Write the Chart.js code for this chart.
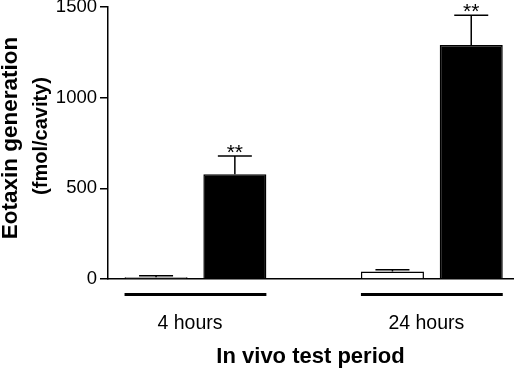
<!DOCTYPE html>
<html>
<head>
<meta charset="utf-8">
<script src="https://cdn.jsdelivr.net/npm/chart.js@4/dist/chart.umd.min.js"></script>
<style>
  body { margin: 0; background: #fff; }
</style>
</head>
<body>
<canvas id="myChart" width="520" height="371"></canvas>
<script>
// values
const periods = ['4 hours', '24 hours'];
const openMean = [10, 42];
const openErr = [18, 51];
const filledMean = [578, 1290];
const filledErr = [678, 1455];
const openMark = ['', ''];
const filledMark = ['**', '**'];
const yTicks = [0, 500, 1000, 1500];
const yTitle = ['Eotaxin generation', '(fmol/cavity)'];
const xTitle = 'In vivo test period';

const FONT = '"Liberation Sans", Arial, Helvetica, sans-serif';
Chart.defaults.font.family = FONT;
Chart.defaults.color = '#000';

// one slot per bar, empty slot between the two periods
var bars = [];
periods.forEach(function (p, i) {
  bars.push({ x: 3 * i + 0.5, y: openMean[i], err: openErr[i], mark: openMark[i], fill: '#fff' });
  bars.push({ x: 3 * i + 1.5, y: filledMean[i], err: filledErr[i], mark: filledMark[i], fill: '#000' });
});

const extras = {
  id: 'extras',
  afterDatasetsDraw(chart) {
    const ctx = chart.ctx;
    const y = chart.scales.y;
    const meta = chart.getDatasetMeta(0);
    ctx.save();
    ctx.strokeStyle = '#000';
    ctx.fillStyle = '#000';
    // error bars (upper only) and significance marks
    bars.forEach(function (b, k) {
      const el = meta.data[k];
      const top = y.getPixelForValue(b.y);
      const cap = y.getPixelForValue(b.err);
      ctx.lineWidth = 1.5;
      ctx.beginPath();
      ctx.moveTo(el.x, top);
      ctx.lineTo(el.x, cap);
      ctx.moveTo(el.x - 17, cap);
      ctx.lineTo(el.x + 17, cap);
      ctx.stroke();
      if (b.mark) {
        ctx.font = '21px ' + FONT;
        ctx.textAlign = 'center';
        ctx.textBaseline = 'alphabetic';
        ctx.fillText(b.mark, el.x, cap + 3);
      }
    });
    // line under each period's pair of bars
    const lineY = chart.chartArea.bottom + 15.5;
    ctx.lineWidth = 3;
    periods.forEach(function (p, i) {
      const a = meta.data[2 * i];
      const c = meta.data[2 * i + 1];
      ctx.beginPath();
      ctx.moveTo(a.x - a.width / 2, lineY);
      ctx.lineTo(c.x + c.width / 2, lineY);
      ctx.stroke();
    });
    ctx.restore();
  },
  afterDraw(chart) {
    // two-line y title, first line larger as in the figure
    const ctx = chart.ctx;
    ctx.save();
    ctx.fillStyle = '#000';
    ctx.textAlign = 'center';
    ctx.textBaseline = 'middle';
    ctx.translate(11, 138);
    ctx.rotate(-Math.PI / 2);
    ctx.font = 'bold 22.5px ' + FONT;
    ctx.fillText(yTitle[0], 0, 0);
    ctx.font = 'bold 20px ' + FONT;
    ctx.fillText(yTitle[1], 2, 30);
    ctx.restore();
  }
};

const ctx = document.getElementById('myChart').getContext('2d');
const myChart = new Chart(ctx, {
  type: 'bar',
  data: {
    datasets: [{
      data: bars.map(b => ({ x: b.x, y: b.y })),
      backgroundColor: bars.map(b => b.fill),
      borderColor: '#000',
      borderWidth: 1.5,
      categoryPercentage: 1,
      barPercentage: 0.8
    }]
  },
  options: {
    responsive: false,
    animation: false,
    layout: { padding: { top: 7, right: 7, left: 0, bottom: 0 } },
    plugins: {
      legend: { display: false },
      tooltip: { enabled: false }
    },
    scales: {
      x: {
        type: 'linear',
        min: -0.11,
        max: 5.03,
        offset: false,
        grid: { display: false },
        border: { color: '#000', width: 1.5 },
        afterBuildTicks: s => { s.ticks = periods.map((p, i) => ({ value: 3 * i + 0.93 })); },
        ticks: {
          autoSkip: false,
          maxRotation: 0,
          padding: 25,
          font: { size: 19.5 },
          callback: (v, i) => periods[i]
        },
        title: {
          display: true,
          text: xTitle,
          font: { size: 22, weight: 'bold' },
          padding: { top: 0, bottom: 1 }
        },
        afterFit: s => { s.height = 92; s.paddingLeft = 0; s.paddingRight = 0; }
      },
      y: {
        min: 0,
        max: 1500,
        afterBuildTicks: s => { s.ticks = yTicks.map(v => ({ value: v })); },
        grid: { drawOnChartArea: false, color: '#000', lineWidth: 1.5, tickLength: 8 },
        border: { color: '#000', width: 1.5 },
        ticks: { padding: 3, font: { size: 18.5 }, callback: v => String(v) },
        afterFit: s => { s.width = 108; s.paddingTop = 0; s.paddingBottom = 0; }
      }
    }
  },
  plugins: [extras]
});
</script>
</body>
</html>
